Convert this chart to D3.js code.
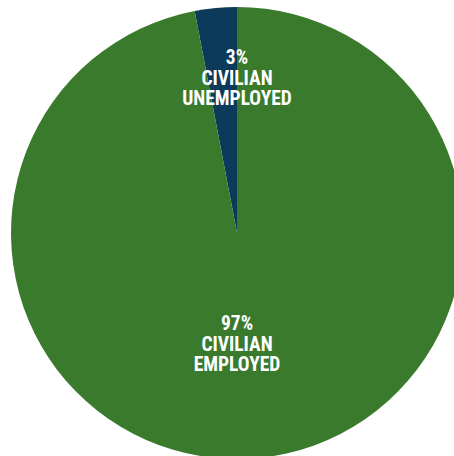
<!DOCTYPE html>
<html>
<head>
<meta charset="utf-8">
<script src="https://cdn.jsdelivr.net/npm/d3@7"></script>
<style>
  html, body { margin: 0; padding: 0; background: #fff; overflow: hidden; }
  svg { display: block; }
  .lbl { font-family: "Liberation Sans Narrow", "Roboto Condensed", "DejaVu Sans Condensed", sans-serif; font-weight: bold; fill: #fff; text-anchor: middle; }
</style>
</head>
<body>
<svg id="chart" width="454" height="456"></svg>
<script>
// Labour force split
const categories = ["CIVILIAN UNEMPLOYED", "CIVILIAN EMPLOYED"];
const values = [3, 97];
const colors = ["#0c3a5b", "#3a7a2d"];
const labelLines = [["3%", "CIVILIAN", "UNEMPLOYED"], ["97%", "CIVILIAN", "EMPLOYED"]];

const svg = d3.select("#chart");
const cx = 237, cy = 233, r = 226;

const pie = d3.pie().sort(null).value(d => d.value);
const arcs = pie(categories.map((c, i) => ({ cat: c, value: values[i], color: colors[i], lines: labelLines[i] })));
// start the first slice just left of 12 o'clock so it ends at the top
const span = arcs[0].endAngle - arcs[0].startAngle;
arcs.forEach(a => { a.startAngle -= span; a.endAngle -= span; });

const arc = d3.arc().innerRadius(0).outerRadius(r);
const g = svg.append("g").attr("transform", `translate(${cx},${cy})`);

g.selectAll("path").data(arcs).join("path")
  .attr("d", arc)
  .attr("fill", d => d.data.color);

// label positions (relative to the centre)
const labelY = [-169, 97];
const fs = 19.5, lh = 20.5;
arcs.forEach((a, i) => {
  const t = g.append("text").attr("class", "lbl").style("font-size", fs + "px");
  a.data.lines.forEach((ln, k) => {
    t.append("tspan").attr("x", 0).attr("y", labelY[i] + k * lh).text(ln);
  });
});
</script>
</body>
</html>
